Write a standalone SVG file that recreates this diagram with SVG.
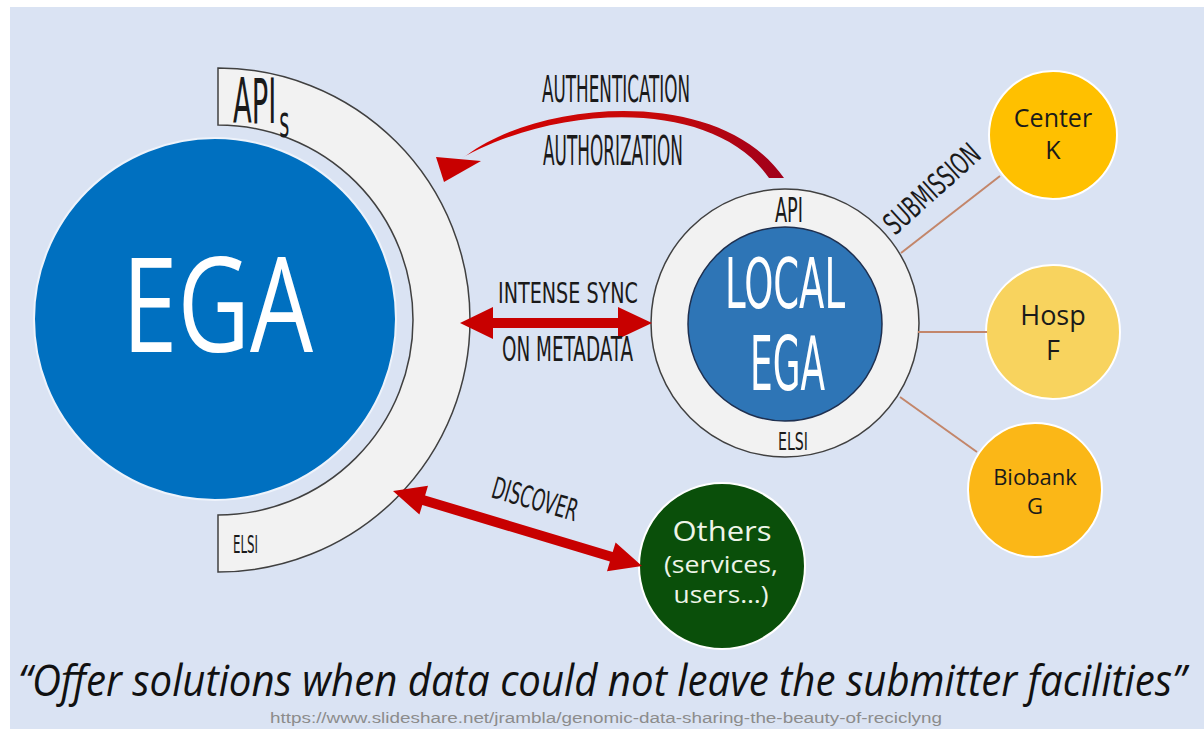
<svg xmlns="http://www.w3.org/2000/svg" width="1204" height="729" viewBox="0 0 1204 729">
<defs>
<style>
.hand{font-family:"Liberation Sans Narrow","DejaVu Sans Condensed","Liberation Sans",sans-serif;fill:#1a1a1a;}
.handw{font-family:"Liberation Sans Narrow","DejaVu Sans Condensed","Liberation Sans",sans-serif;fill:#ffffff;}
.lbl{font-family:"Open Sans","Noto Sans",sans-serif;fill:#1a1a1a;text-anchor:middle;}
.lblw{font-family:"Open Sans","Noto Sans",sans-serif;fill:#eef5e8;text-anchor:middle;}
.ring{fill:#f2f2f2;stroke:#404040;stroke-width:1.5;}
.conn{stroke:#c3866a;stroke-width:2;fill:none;}
.red{fill:#c80000;}
.site{stroke:#ffffff;stroke-width:2;}
</style>
<linearGradient id="arcg" x1="0" y1="0" x2="1" y2="0">
<stop offset="0" stop-color="#d20000"/>
<stop offset="0.6" stop-color="#c80a0a"/>
<stop offset="1" stop-color="#a0001a"/>
</linearGradient>
</defs>
<rect x="0" y="0" width="1204" height="729" fill="#ffffff"/>
<rect x="10" y="7" width="1194" height="722" fill="#dae3f3"/>

<g id="apis-ring">
<path class="ring" d="M218,68 A252,252 0 0 1 218,572 L218,515 A195,195 0 0 0 218,125 Z"/>
<text class="hand" transform="translate(233,123) scale(0.49,1)" x="0" y="0" font-size="62">API<tspan dx="6" dy="14" font-size="44">s</tspan></text>
<text class="hand" x="233" y="553" font-size="25" textLength="25" lengthAdjust="spacingAndGlyphs">ELSI</text>
</g>

<g id="ega">
<circle cx="215" cy="319" r="181" fill="#0070c0" stroke="#eef3fb" stroke-width="2"/>
<text x="122" y="352" font-family="'Open Sans','Noto Sans',sans-serif" font-size="131" fill="#ffffff" textLength="191" lengthAdjust="spacingAndGlyphs">EGA</text>
</g>

<g id="local-ega">
<circle cx="785" cy="323" r="134" class="ring"/>
<circle cx="785" cy="324" r="97" fill="#2e75b6" stroke="#1f3050" stroke-width="1.5"/>
<text class="handw" x="725" y="308" font-size="70" textLength="120" lengthAdjust="spacingAndGlyphs">LOCAL</text>
<text class="handw" x="750" y="390" font-size="74" textLength="75" lengthAdjust="spacingAndGlyphs">EGA</text>
<text class="hand" x="775" y="222" font-size="34" textLength="28" lengthAdjust="spacingAndGlyphs">API</text>
<text class="hand" x="778" y="450" font-size="25" textLength="30" lengthAdjust="spacingAndGlyphs">ELSI</text>
</g>

<g id="center-k">
<circle cx="1053" cy="135" r="64" fill="#ffc000" class="site"/>
<text class="lbl" x="1053" y="127" font-size="25">Center</text>
<text class="lbl" x="1053" y="159" font-size="25">K</text>
</g>

<g id="hosp-f">
<circle cx="1053" cy="332" r="67" fill="#f8d35e" class="site"/>
<text class="lbl" x="1053" y="325" font-size="27">Hosp</text>
<text class="lbl" x="1053" y="360" font-size="27">F</text>
</g>

<g id="biobank-g">
<circle cx="1035" cy="490" r="67" fill="#fbb717" class="site"/>
<text class="lbl" x="1035" y="485" font-size="22">Biobank</text>
<text class="lbl" x="1035" y="514" font-size="22">G</text>
</g>

<g id="others">
<circle cx="722" cy="566" r="83" fill="#0a4f0a" stroke="#ffffff" stroke-width="2"/>
<text class="lblw" x="722" y="541" font-size="28" textLength="99" lengthAdjust="spacingAndGlyphs">Others</text>
<text class="lblw" x="721" y="573" font-size="24" textLength="114" lengthAdjust="spacingAndGlyphs">(services,</text>
<text class="lblw" x="721" y="603" font-size="24" textLength="95" lengthAdjust="spacingAndGlyphs">users…)</text>
</g>

<g id="connectors">
<path d="M467,155 C540,100 720,85 784,178 L769,178 C712,95 548,104 452,164 Z" fill="url(#arcg)"/>
<polygon class="red" points="436,157 481,161 444,182"/>
<polygon class="red" points="460,323 493,307 493,318 618,318 618,307 652,323 618,339 618,328 493,328 493,339"/>
<polygon class="red" points="393,491 419.4,514.6 422.3,505 609.9,561.6 607,571.2 642,566 615.6,542.4 612.7,552 425.1,495.4 428,485.8"/>
<line class="conn" x1="901" y1="253" x2="1000" y2="176"/>
<line class="conn" x1="918" y1="332" x2="987" y2="332"/>
<line class="conn" x1="900" y1="397" x2="977" y2="452"/>
</g>

<g id="labels">
<text class="hand" x="542" y="102" font-size="37" textLength="148" lengthAdjust="spacingAndGlyphs">AUTHENTICATION</text>
<text class="hand" x="543" y="165" font-size="40" textLength="140" lengthAdjust="spacingAndGlyphs">AUTHORIZATION</text>
<text class="hand" x="498" y="303" font-size="29" textLength="140" lengthAdjust="spacingAndGlyphs">INTENSE SYNC</text>
<text class="hand" x="502" y="361" font-size="33" textLength="131" lengthAdjust="spacingAndGlyphs">ON METADATA</text>
<text class="hand" x="490" y="497" font-size="30" textLength="88" lengthAdjust="spacingAndGlyphs" transform="rotate(16 490 497)">DISCOVER</text>
<text class="hand" x="895" y="236" font-size="30" textLength="118" lengthAdjust="spacingAndGlyphs" transform="rotate(-42 895 236)">SUBMISSION</text>
</g>

<g id="caption">
<text transform="translate(18,696) scale(0.8,1)" x="0" y="0" font-family="'Open Sans','Noto Sans',sans-serif" font-style="italic" font-size="43" fill="#111111" textLength="1460" lengthAdjust="spacingAndGlyphs">“Offer solutions when data could not leave the submitter facilities”</text>
<text x="270" y="723" font-family="'Liberation Sans Narrow','Liberation Sans',sans-serif" font-size="14" fill="#8c8c8c" textLength="672" lengthAdjust="spacingAndGlyphs">https://www.slideshare.net/jrambla/genomic-data-sharing-the-beauty-of-reciclyng</text>
</g>
</svg>
